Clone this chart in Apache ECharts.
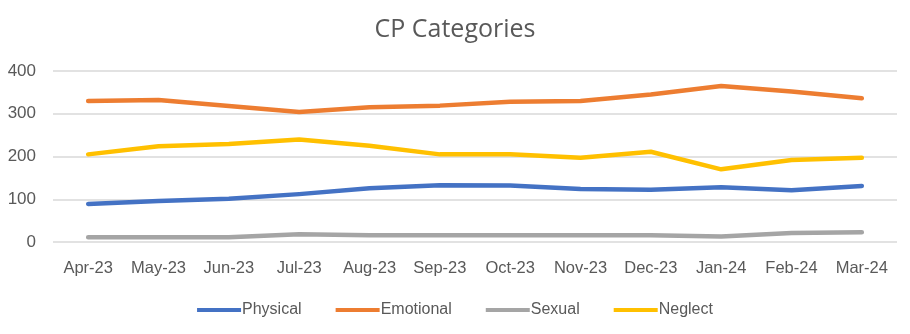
<!DOCTYPE html>
<html><head><meta charset="utf-8">
<script src="https://cdn.jsdelivr.net/npm/echarts@6/dist/echarts.min.js"></script>
<style>html,body{margin:0;padding:0;background:#fff}#c{width:910px;height:334px}</style>
</head><body><div id="c"></div>
<script>
const categories = ['Apr-23','May-23','Jun-23','Jul-23','Aug-23','Sep-23','Oct-23','Nov-23','Dec-23','Jan-24','Feb-24','Mar-24'];
const physical  = [89, 96, 101, 112, 126, 133, 132, 124, 122, 128, 121, 131];
const emotional = [330, 332, 318, 304, 315, 319, 328, 330, 345, 365, 352, 336];
const sexual    = [11, 11, 11, 18, 16, 16, 16, 16, 16, 13, 21, 23];
const neglect   = [205, 224, 229, 240, 225, 205, 205, 197, 211, 170, 192, 197];
const seriesNames = ['Physical','Emotional','Sexual','Neglect'];
const colors = ['#4472C4','#ED7D31','#A5A5A5','#FFC000'];
const font = "'Liberation Sans', sans-serif";
const chart = echarts.init(document.getElementById('c'));
const data = [physical, emotional, sexual, neglect];
chart.setOption({
  animation: false,
  color: colors,
  title: {text: 'CP Categories', left: 'center', top: 12,
    textStyle: {fontFamily: "'Open Sans', sans-serif", fontSize: 25, fontWeight: 'normal', color: '#595959'}},
  grid: {left: 53, right: 13, top: 71, bottom: 92},
  legend: {bottom: 11, itemGap: 34, itemWidth: 44, itemHeight: 4,
    icon: 'rect',
    textStyle: {fontFamily: font, fontSize: 16, color: '#595959', padding: [0,0,0,-4]},
    data: seriesNames},
  xAxis: {type: 'category', data: categories, boundaryGap: true,
    axisLine: {show: false}, axisTick: {show: false},
    axisLabel: {fontFamily: font, fontSize: 16.5, color: '#595959', margin: 18, interval: 0}},
  yAxis: {type: 'value', min: 0, max: 400, interval: 100,
    axisLine: {show: false}, axisTick: {show: false},
    axisLabel: {fontFamily: font, fontSize: 17, color: '#595959', margin: 17},
    splitLine: {lineStyle: {color: '#D9D9D9', width: 1.5}}},
  series: seriesNames.map((n, i) => ({
    name: n, type: 'line', data: data[i], symbol: 'none',
    lineStyle: {width: 4.5, cap: 'round', join: 'round'}
  }))
});
</script></body></html>
